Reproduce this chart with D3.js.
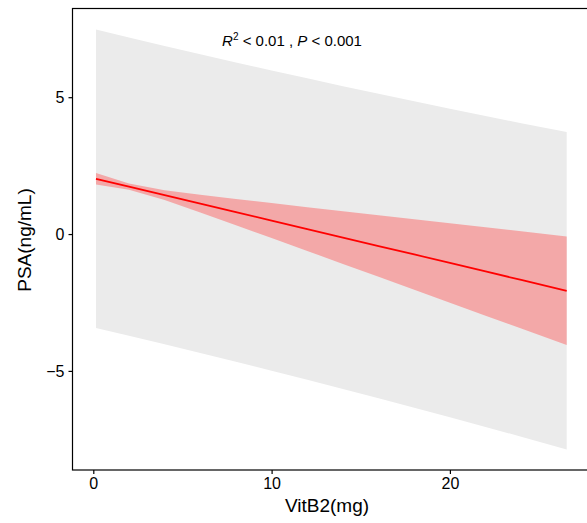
<!DOCTYPE html>
<html><head><meta charset="utf-8">
<script src="https://cdn.jsdelivr.net/npm/d3@7"></script>
<style>body{margin:0;background:#fff}svg{display:block}text{font-family:"Liberation Sans",Arial,sans-serif}</style>
</head><body>
<svg id="c" width="587" height="523"></svg>
<script>
const xs      = [0.15, 2, 4, 6, 8, 10, 12, 14, 16, 18, 20, 22, 24, 26.55];
const fit     = [2.02, 1.733, 1.423, 1.113, 0.803, 0.493, 0.183, -0.127, -0.437, -0.747, -1.057, -1.367, -1.677, -2.072];
const ciHigh  = [2.23, 1.85, 1.603, 1.436, 1.283, 1.133, 0.983, 0.836, 0.689, 0.541, 0.394, 0.247, 0.10, -0.087];
const ciLow   = [1.81, 1.616, 1.243, 0.790, 0.323, -0.147, -0.617, -1.09, -1.563, -2.035, -2.508, -2.981, -3.454, -4.057];
const piHigh  = [7.47, 7.18, 6.872, 6.569, 6.27, 5.977, 5.688, 5.404, 5.124, 4.849, 4.579, 4.313, 4.052, 3.725];
const piLow   = [-3.43, -3.714, -4.026, -4.343, -4.664, -4.991, -5.322, -5.658, -5.998, -6.343, -6.693, -7.047, -7.406, -7.869];
const xTicks  = [0, 10, 20];
const yTicks  = [-5, 0, 5];

const svg = d3.select("#c");
const x = d3.scaleLinear().domain([0, 20]).range([93.3, 449.9]);
const y = d3.scaleLinear().domain([-5, 5]).range([370.9, 97.2]);
const rows = xs.map((v, i) => ({x: v, f: fit[i], cl: ciLow[i], ch: ciHigh[i], pl: piLow[i], ph: piHigh[i]}));

const L = 72.5, T = 8.5, B = 470;

svg.append("path").datum(rows)
  .attr("fill", "#ebebeb")
  .attr("d", d3.area().x(d => x(d.x)).y0(d => y(d.pl)).y1(d => y(d.ph)));
svg.append("path").datum(rows)
  .attr("fill", "#f3a8a8")
  .attr("d", d3.area().x(d => x(d.x)).y0(d => y(d.cl)).y1(d => y(d.ch)));
svg.append("path").datum(rows)
  .attr("fill", "none").attr("stroke", "#ff0000").attr("stroke-width", 1.8)
  .attr("d", d3.line().x(d => x(d.x)).y(d => y(d.f)));

// panel border
svg.append("rect").attr("x", L).attr("y", T).attr("width", 600).attr("height", B - T)
  .attr("fill", "none").attr("stroke", "#000").attr("stroke-width", 1.2);

const xa = svg.append("g").attr("transform", `translate(0,${B})`)
  .call(d3.axisBottom(x).tickValues(xTicks).tickSize(4).tickPadding(4).tickFormat(d3.format("d")));
xa.select(".domain").remove();
const ya = svg.append("g").attr("transform", `translate(${L},0)`)
  .call(d3.axisLeft(y).tickValues(yTicks).tickSize(4).tickPadding(4).tickFormat(d => d < 0 ? "\u2212" + Math.abs(d) : d));
ya.select(".domain").remove();
svg.selectAll(".tick line").attr("stroke", "#000").attr("stroke-width", 1.2);
svg.selectAll(".tick text").attr("fill", "#000").style("font-size", "16px").style("font-family", "'Liberation Sans',Arial,sans-serif");

svg.append("text").attr("x", 327).attr("y", 512).attr("text-anchor", "middle")
  .style("font-size", "19px").text("VitB2(mg)");
svg.append("text").attr("transform", "translate(31,240) rotate(-90)").attr("text-anchor", "middle")
  .style("font-size", "19px").text("PSA(ng/mL)");

const ann = svg.append("text").attr("x", 292).attr("y", 46).attr("text-anchor", "middle").style("font-size", "15px");
ann.append("tspan").style("font-style", "italic").text("R");
ann.append("tspan").attr("dy", -6).style("font-size", "10px").text("2");
ann.append("tspan").attr("dy", 6).text(" < 0.01 , ");
ann.append("tspan").style("font-style", "italic").text("P");
ann.append("tspan").text(" < 0.001");
</script>
</body></html>
